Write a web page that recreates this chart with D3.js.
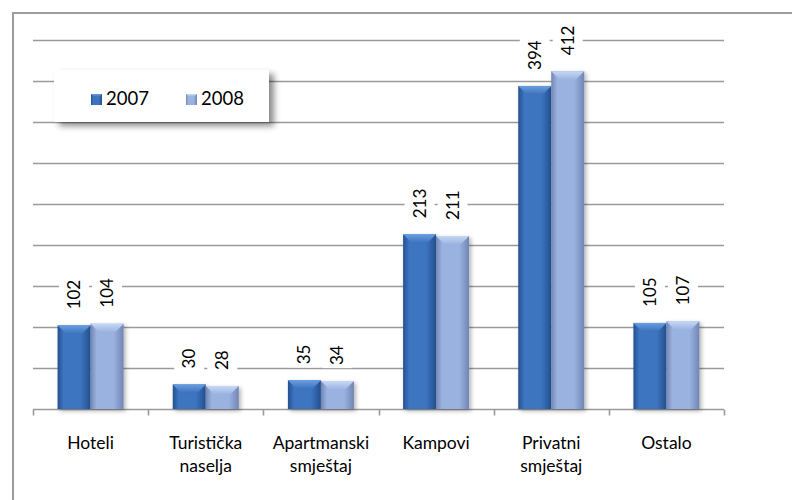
<!DOCTYPE html>
<html>
<head>
<meta charset="utf-8">
<script src="https://cdn.jsdelivr.net/npm/d3@7"></script>
<style>
  body { margin: 0; background: #fff; }
  text { font-family: Lato, "Open Sans", sans-serif; fill: #000; }
</style>
</head>
<body>
<div id="chart"></div>
<script>
// categories and values
const categories = ["Hoteli", "Turistička naselja", "Apartmanski smještaj", "Kampovi", "Privatni smještaj", "Ostalo"];
const categoryLines = [["Hoteli"], ["Turistička", "naselja"], ["Apartmanski", "smještaj"], ["Kampovi"], ["Privatni", "smještaj"], ["Ostalo"]];
const years = ["2007", "2008"];
const values2007 = [102, 30, 35, 213, 394, 105];
const values2008 = [104, 28, 34, 211, 412, 107];
const yTicks = [0, 50, 100, 150, 200, 250, 300, 350, 400, 450];

const width = 792, height = 500;
const plot = { left: 33, right: 724, top: 40, bottom: 409 };

let svg = d3.select("#chart")
    .append("svg")
    .attr("width", width)
    .attr("height", height);

let defs = svg.append("defs");

// bar colours: edge, middle, top bevel
const palette = {
    "2007": { edge: "#24508f", mid: "#3c74c0", top1: "#6a9ee0", top2: "#3a70bb" },
    "2008": { edge: "#7185b4", mid: "#9ab2df", top1: "#c6d8f6", top2: "#98b0dd" }
};
years.forEach(function(yr) {
    let p = palette[yr];
    let g = defs.append("linearGradient").attr("id", "side" + yr)
        .attr("x1", 0).attr("x2", 1).attr("y1", 0).attr("y2", 0);
    g.append("stop").attr("offset", "0%").attr("stop-color", p.edge);
    g.append("stop").attr("offset", "18%").attr("stop-color", p.mid);
    g.append("stop").attr("offset", "70%").attr("stop-color", p.mid);
    g.append("stop").attr("offset", "100%").attr("stop-color", p.edge);
    let t = defs.append("linearGradient").attr("id", "top" + yr)
        .attr("x1", 0).attr("x2", 0).attr("y1", 0).attr("y2", 1);
    t.append("stop").attr("offset", "0%").attr("stop-color", p.top1);
    t.append("stop").attr("offset", "100%").attr("stop-color", p.top2);
});

let shadow = defs.append("filter").attr("id", "shadow")
    .attr("x", "-20%").attr("y", "-20%").attr("width", "150%").attr("height", "150%");
shadow.append("feDropShadow").attr("dx", 2).attr("dy", 2).attr("stdDeviation", 2)
    .attr("flood-color", "#000").attr("flood-opacity", 0.3);

let legendShadow = defs.append("filter").attr("id", "legshadow")
    .attr("x", "-10%").attr("y", "-20%").attr("width", "130%").attr("height", "150%");
legendShadow.append("feDropShadow").attr("dx", 5).attr("dy", 4).attr("stdDeviation", 3)
    .attr("flood-color", "#000").attr("flood-opacity", 0.45);

// outer frame (only left and top visible)
svg.append("path")
    .attr("d", `M13,${height + 5} L13,13 L${width + 5},13`)
    .attr("fill", "none")
    .attr("stroke", "#9c9c9c")
    .attr("stroke-width", 2);

// scales
let x0 = d3.scaleBand()
    .domain(categories)
    .range([plot.left, plot.right]);

let x1 = d3.scaleBand()
    .domain(years)
    .range([0, x0.bandwidth()])
    .paddingOuter(0.745);

let y = d3.scaleLinear()
    .domain([0, 450])
    .range([plot.bottom, plot.top]);

// gridlines
svg.append("g")
    .selectAll("line")
    .data(yTicks)
    .enter()
    .append("line")
    .attr("x1", plot.left)
    .attr("x2", plot.right)
    .attr("y1", function(d) { return Math.round(y(d)) + 0.5; })
    .attr("y2", function(d) { return Math.round(y(d)) + 0.5; })
    .attr("stroke", "#9a9a9a")
    .attr("stroke-width", 1.6);

// x axis ticks at category boundaries
let axis = svg.append("g")
    .attr("transform", `translate(0, ${Math.round(y(0)) + 0.5})`)
    .call(d3.axisBottom(x0).tickSize(0).tickFormat(""));
axis.select(".domain").remove();
let bounds = categories.map(function(c) { return x0(c); }).concat([plot.right]);
axis.selectAll(".bound")
    .data(bounds)
    .enter()
    .append("line")
    .attr("x1", function(d) { return Math.round(d) + 0.5; })
    .attr("x2", function(d) { return Math.round(d) + 0.5; })
    .attr("y1", 0)
    .attr("y2", 6)
    .attr("stroke", "#9a9a9a")
    .attr("stroke-width", 1.6);

// category labels
let catLabels = svg.append("g");
categories.forEach(function(c, i) {
    let t = catLabels.append("text")
        .attr("x", x0(c) + x0.bandwidth() / 2)
        .attr("y", 449)
        .style("text-anchor", "middle")
        .style("font-size", "17.5px");
    categoryLines[i].forEach(function(line, j) {
        t.append("tspan")
            .attr("x", x0(c) + x0.bandwidth() / 2)
            .attr("dy", j == 0 ? 0 : 23)
            .text(line);
    });
});

// flatten data
let data = [];
categories.forEach(function(c, i) {
    data.push({ cat: c, year: "2007", value: values2007[i] });
    data.push({ cat: c, year: "2008", value: values2008[i] });
});

// bars
let bars = svg.append("g").selectAll("g.bar")
    .data(data)
    .enter()
    .append("g")
    .attr("class", "bar")
    .attr("filter", "url(#shadow)");

bars.append("rect")
    .attr("x", function(d) { return x0(d.cat) + x1(d.year); })
    .attr("y", function(d) { return y(d.value); })
    .attr("width", x1.bandwidth())
    .attr("height", function(d) { return y(0) - y(d.value); })
    .attr("fill", function(d) { return "url(#side" + d.year + ")"; });

// top bevel
bars.append("path")
    .attr("d", function(d) {
        let bx = x0(d.cat) + x1(d.year), bw = x1.bandwidth(), by = y(d.value);
        let bevel = Math.min(9, (y(0) - by) / 2);
        return `M${bx},${by} L${bx + bw},${by} L${bx + bw - bevel},${by + bevel} L${bx + bevel},${by + bevel} Z`;
    })
    .attr("fill", function(d) { return "url(#top" + d.year + ")"; });

// data labels with white boxes
let labels = svg.append("g").selectAll("g.lab")
    .data(data)
    .enter()
    .append("g")
    .attr("class", "lab")
    .attr("transform", function(d) {
        let cx = x0(d.cat) + x1(d.year) + x1.bandwidth() / 2;
        return `translate(${cx}, ${y(d.value) - 16}) rotate(-90)`;
    });

labels.append("text")
    .attr("x", 0)
    .attr("y", 0)
    .attr("dy", "0.35em")
    .style("text-anchor", "start")
    .style("font-size", "17px")
    .text(function(d) { return d.value; });

labels.each(function() {
    let g = d3.select(this);
    let bb = g.select("text").node().getBBox();
    g.insert("rect", "text")
        .attr("x", bb.x - 3)
        .attr("y", -15)
        .attr("width", bb.width + 6)
        .attr("height", 30)
        .attr("fill", "#fff");
});

// legend
let legend = svg.append("g").attr("transform", "translate(54, 70)");
legend.append("rect")
    .attr("width", 215)
    .attr("height", 52)
    .attr("fill", "#fff")
    .attr("filter", "url(#legshadow)");

let legItems = legend.selectAll("g.item")
    .data(years)
    .enter()
    .append("g")
    .attr("class", "item")
    .attr("transform", function(d, i) { return `translate(${37 + i * 95}, 24)`; });

legItems.append("rect")
    .attr("width", 11)
    .attr("height", 11)
    .attr("fill", function(d) { return "url(#side" + d + ")"; });
legItems.append("path")
    .attr("d", "M0,0 L11,0 L8,3 L3,3 Z")
    .attr("fill", function(d) { return "url(#top" + d + ")"; });

legItems.append("text")
    .attr("x", 15)
    .attr("y", 11)
    .style("font-size", "18.5px")
    .text(function(d) { return d; });
</script>
</body>
</html>
